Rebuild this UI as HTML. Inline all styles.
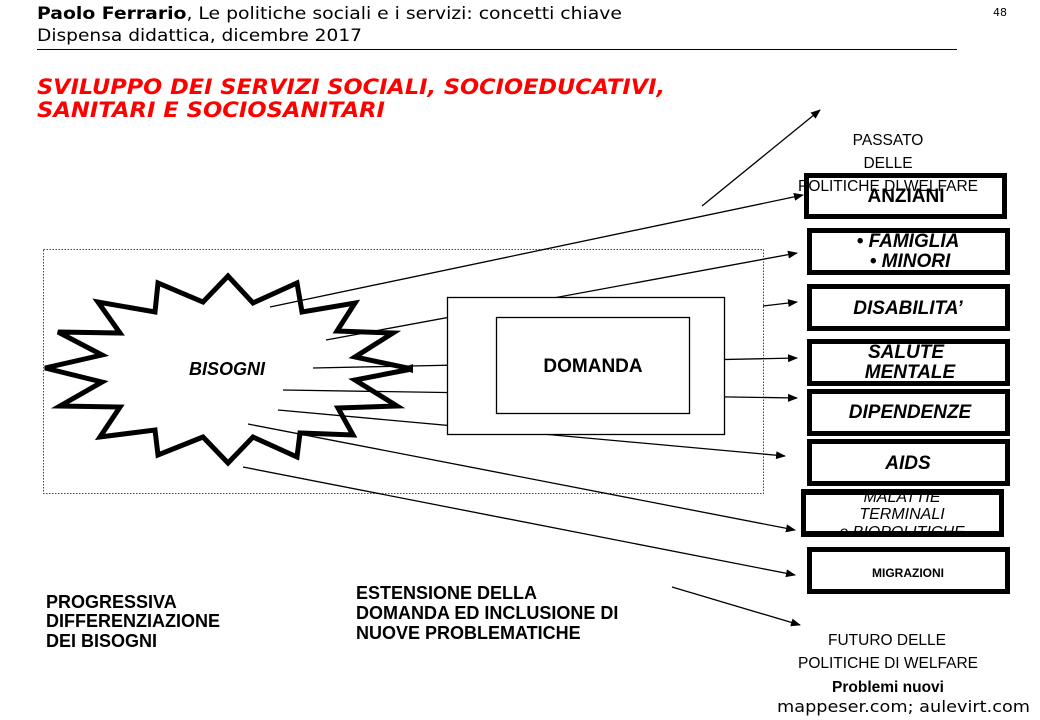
<!DOCTYPE html>
<html><head><meta charset="utf-8"><style>
html,body{margin:0;padding:0;background:#fff;}
svg{display:block;}
text{font-family:"Liberation Sans",Arial,sans-serif;}
.v{font-family:"DejaVu Sans",Verdana,sans-serif;}
</style></head><body>
<svg width="1040" height="720" viewBox="0 0 1040 720" xmlns="http://www.w3.org/2000/svg">
<defs>
<marker id="ah" markerWidth="10" markerHeight="8" refX="9" refY="4" orient="auto" markerUnits="userSpaceOnUse">
<path d="M0,0 L10,4 L0,8 Z" fill="#000"/></marker>
</defs>
<rect width="1040" height="720" fill="#fff"/>
<text class="v" x="37" y="19" font-size="17" textLength="585" lengthAdjust="spacingAndGlyphs"><tspan font-weight="bold">Paolo Ferrario</tspan>, Le politiche sociali e i servizi: concetti chiave</text>
<text class="v" x="37" y="41" font-size="17" textLength="325" lengthAdjust="spacingAndGlyphs">Dispensa didattica, dicembre 2017</text>
<text class="v" x="993" y="16" font-size="11">48</text>
<line x1="37" y1="49.5" x2="957" y2="49.5" stroke="#000" stroke-width="1"/>
<text class="v" x="37" y="94" font-size="21" font-weight="bold" font-style="italic" fill="#f00" textLength="628" lengthAdjust="spacingAndGlyphs">SVILUPPO DEI SERVIZI SOCIALI, SOCIOEDUCATIVI,</text>
<text class="v" x="37" y="117" font-size="21" font-weight="bold" font-style="italic" fill="#f00" textLength="348" lengthAdjust="spacingAndGlyphs">SANITARI E SOCIOSANITARI</text>

<rect x="43.5" y="249.5" width="720" height="244" fill="none" stroke="#444" stroke-width="1" stroke-dasharray="1.5,1.5"/>

<polygon points="45,368 102,355 58,332 120,333 98,302 155,312 158,283 203,302 228,276 253,303 297,283 302,312 355,303 337,331 393,333 355,357 412,369 355,380 397,406 338,408 353,435 300,433 297,457 253,437 228,463 203,437 158,455 155,430 100,437 120,407 60,406 102,382" fill="#fff" stroke="#000" stroke-width="5" stroke-linejoin="miter"/>
<text x="227" y="375" font-size="18" font-weight="bold" font-style="italic" text-anchor="middle">BISOGNI</text>

<g stroke="#000" stroke-width="1.3" fill="none">
<line x1="270" y1="307" x2="803" y2="195" marker-end="url(#ah)"/>
<line x1="326" y1="340" x2="797" y2="253" marker-end="url(#ah)"/>
<line x1="763" y1="306" x2="797" y2="302" marker-end="url(#ah)"/>
<line x1="313" y1="368" x2="797" y2="358" marker-end="url(#ah)"/>
<line x1="283" y1="390" x2="797" y2="398" marker-end="url(#ah)"/>
<line x1="278" y1="410" x2="785" y2="456" marker-end="url(#ah)"/>
<line x1="248" y1="424" x2="795" y2="530" marker-end="url(#ah)"/>
<line x1="243" y1="467" x2="795" y2="575" marker-end="url(#ah)"/>
<line x1="672" y1="587" x2="800" y2="625" marker-end="url(#ah)"/>
<line x1="702" y1="206" x2="820" y2="110" marker-end="url(#ah)"/>
</g>
<path d="M400,369 L413,364 L413,373 Z" fill="#000"/>

<rect x="447.5" y="297.5" width="277" height="137" fill="#fff" stroke="#000" stroke-width="1.3"/>
<rect x="496.5" y="317.5" width="193" height="96" fill="#fff" stroke="#000" stroke-width="1.3"/>
<text x="593" y="372" font-size="19" font-weight="bold" text-anchor="middle">DOMANDA</text>

<g fill="#fff" stroke="#000" stroke-width="5">
<rect x="806.5" y="175.5" width="198" height="41"/>
<rect x="809.5" y="230.5" width="198" height="42"/>
<rect x="809.5" y="286.5" width="198" height="42"/>
<rect x="809.5" y="341.5" width="198" height="42"/>
<rect x="809.5" y="391.5" width="198" height="42"/>
<rect x="809.5" y="441.5" width="198" height="42"/>
<rect x="803.5" y="491.5" width="198" height="43"/>
<rect x="809.5" y="549.5" width="198" height="42"/>
</g>
<g font-weight="bold" font-style="italic" font-size="19" text-anchor="middle">
<text x="906" y="202" font-style="normal">ANZIANI</text>
<text x="908" y="247">• FAMIGLIA</text>
<text x="910" y="267">• MINORI</text>
<text x="908" y="314">DISABILITA’</text>
<text x="906" y="358">SALUTE</text>
<text x="910" y="378">MENTALE</text>
<text x="910" y="418">DIPENDENZE</text>
<text x="908" y="469">AIDS</text>
</g>
<g font-style="italic" font-size="16" text-anchor="middle">
<text x="902" y="502">MALATTIE</text>
<text x="902" y="519">TERMINALI</text>
<text x="902" y="537">e BIOPOLITICHE</text>
</g>
<rect x="806" y="489" width="195" height="6" fill="#000"/>
<rect x="806" y="531" width="195" height="6" fill="#000"/>
<text x="908" y="577" font-size="12" font-weight="bold" text-anchor="middle">MIGRAZIONI</text>

<g font-size="15.5" text-anchor="middle">
<text x="888" y="145">PASSATO</text>
<text x="888" y="168">DELLE</text>
<text x="888" y="191">POLITICHE DI WELFARE</text>
</g>
<g font-size="15.5" text-anchor="middle">
<text x="887" y="645">FUTURO DELLE</text>
<text x="888" y="668">POLITICHE DI WELFARE</text>
<text x="888" y="692" font-weight="bold">Problemi nuovi</text>
</g>
<text class="v" x="777" y="712" font-size="16" textLength="253" lengthAdjust="spacingAndGlyphs">mappeser.com; aulevirt.com</text>

<g font-size="18" font-weight="bold">
<text x="46" y="608">PROGRESSIVA</text>
<text x="46" y="627">DIFFERENZIAZIONE</text>
<text x="46" y="647">DEI BISOGNI</text>
<text x="356" y="599">ESTENSIONE DELLA</text>
<text x="356" y="619">DOMANDA ED INCLUSIONE DI</text>
<text x="356" y="639">NUOVE PROBLEMATICHE</text>
</g>
</svg>
</body></html>
